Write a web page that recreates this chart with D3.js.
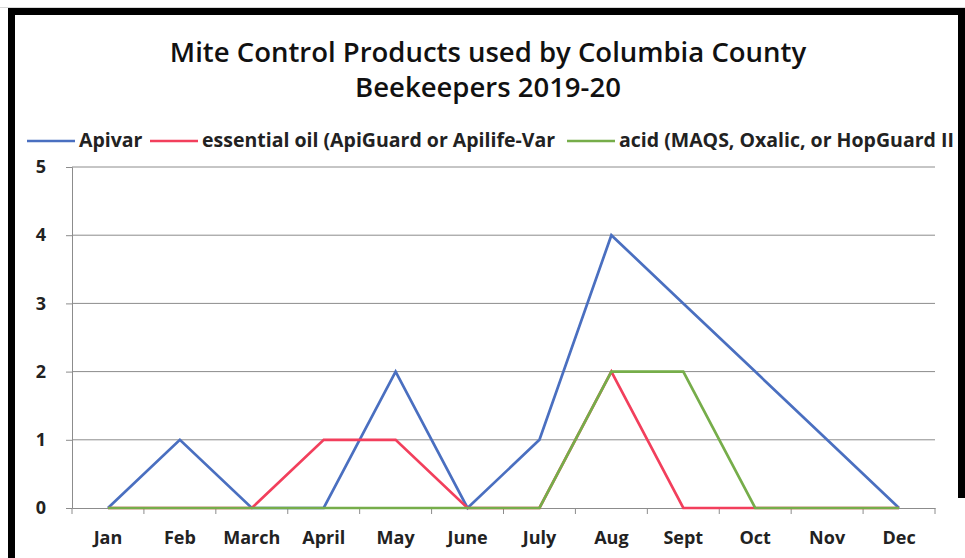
<!DOCTYPE html>
<html>
<head>
<meta charset="utf-8">
<script src="https://cdn.jsdelivr.net/npm/d3@7"></script>
<style>
  body { margin: 0; background: #fff; }
  svg { display: block; }
  svg text { font-family: "Open Sans", "DejaVu Sans", sans-serif; }
</style>
</head>
<body>
<div id="chart"></div>
<script>
const months = ["Jan", "Feb", "March", "April", "May", "June", "July", "Aug", "Sept", "Oct", "Nov", "Dec"];
const apivar = [0, 1, 0, 0, 2, 0, 1, 4, 3, 2, 1, 0];
const essentialOil = [0, 0, 0, 1, 1, 0, 0, 2, 0, 0, 0, 0];
const acid = [0, 0, 0, 0, 0, 0, 0, 2, 2, 0, 0, 0];
const seriesNames = ["Apivar", "essential oil (ApiGuard or Apilife-Var", "acid (MAQS, Oxalic, or HopGuard II"];
const yTicks = [0, 1, 2, 3, 4, 5];

const colors = ["#4a6fc0", "#f23f5c", "#76ad4a"];
const series = [apivar, essentialOil, acid];

const W = 965, H = 558;
const margin = { top: 167, left: 72, right: 30 };
const plotBottom = 508;

const svg = d3.select("#chart").append("svg")
  .attr("width", W).attr("height", H);

// title
const title = svg.append("text")
  .attr("text-anchor", "middle")
  .style("font-size", "27.5px").style("font-weight", "600").attr("fill", "#111");
title.append("tspan").attr("x", 488).attr("y", 62).text("Mite Control Products used by Columbia County");
title.append("tspan").attr("x", 488).attr("y", 97).text("Beekeepers 2019-20");

const x = d3.scaleBand().domain(months).range([margin.left, W - margin.right]);
const y = d3.scaleLinear().domain([0, 5]).range([plotBottom, margin.top]);

// gridlines
svg.append("g")
  .selectAll("line")
  .data(yTicks.filter(d => d > 0))
  .enter().append("line")
  .attr("x1", margin.left).attr("x2", W - margin.right)
  .attr("y1", d => y(d)).attr("y2", d => y(d))
  .attr("stroke", "#8c8c8c").attr("stroke-width", 1);

// y axis
const yAxis = svg.append("g")
  .attr("transform", "translate(" + margin.left + ",0)")
  .call(d3.axisLeft(y).tickValues(yTicks).tickFormat(d3.format("d")).tickSize(6).tickPadding(20));
yAxis.select(".domain").attr("stroke", "#8c8c8c");
yAxis.selectAll(".tick line").attr("stroke", "#8c8c8c");
yAxis.selectAll("text").style("font-size", "18px").style("font-weight", "700").attr("fill", "#222");

// x axis
const xAxis = svg.append("g")
  .attr("transform", "translate(0," + plotBottom + ")")
  .call(d3.axisBottom(x).tickSize(0).tickPadding(23));
xAxis.select(".domain").attr("stroke", "#8c8c8c");
xAxis.selectAll("text").style("font-size", "18px").style("font-weight", "700").attr("fill", "#222");
// boundary tick marks
svg.append("g")
  .selectAll("line")
  .data(months.map((m, i) => i).concat([months.length]))
  .enter().append("line")
  .attr("x1", i => margin.left + i * x.bandwidth())
  .attr("x2", i => margin.left + i * x.bandwidth())
  .attr("y1", plotBottom).attr("y2", plotBottom + 6)
  .attr("stroke", "#8c8c8c");

// lines
const line = d3.line()
  .x((d, i) => x(months[i]) + x.bandwidth() / 2)
  .y(d => y(d));

series.forEach((s, k) => {
  svg.append("path")
    .datum(s)
    .attr("d", line)
    .attr("fill", "none")
    .attr("stroke", colors[k])
    .attr("stroke-width", 2.7)
    .attr("stroke-linejoin", "miter");
});

// legend
const legendPos = [27, 150, 567];
const legend = svg.append("g");
seriesNames.forEach((name, k) => {
  const g = legend.append("g").attr("transform", "translate(" + legendPos[k] + ",141)");
  g.append("line").attr("x1", 0).attr("x2", 48).attr("y1", 0).attr("y2", 0)
    .attr("stroke", colors[k]).attr("stroke-width", 2.7);
  g.append("text").attr("x", 52).attr("y", 6)
    .style("font-size", "19.5px").style("font-weight", "700").attr("fill", "#222")
    .text(name);
});

// frame, drawn last so it covers the clipped legend text
svg.append("rect").attr("x", 0).attr("y", 7).attr("width", W).attr("height", 1).attr("fill", "#d8d8d8");
svg.append("rect").attr("x", 8).attr("y", 8).attr("width", 954).attr("height", 7).attr("fill", "#000");
svg.append("rect").attr("x", 8).attr("y", 8).attr("width", 7).attr("height", H).attr("fill", "#000");
svg.append("rect").attr("x", 958).attr("y", 8).attr("width", 7).attr("height", 490).attr("fill", "#000");
</script>
</body>
</html>
